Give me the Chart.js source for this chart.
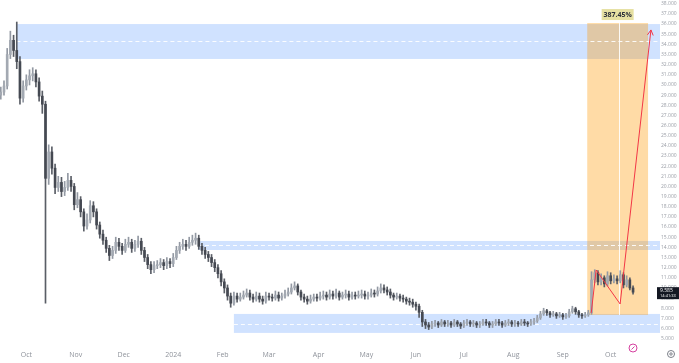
<!DOCTYPE html>
<html>
<head>
<meta charset="utf-8">
<script src="https://cdn.jsdelivr.net/npm/chart.js@4.4.0/dist/chart.umd.min.js"></script>
<style>
  html, body { margin: 0; padding: 0; background: #fff; }
  #wrap { width: 679px; height: 363px; position: relative; }
</style>
</head>
<body>
<div id="wrap"><canvas id="chart"></canvas></div>
<script>
// Candles: one every 2 days, day 0 = 15 Sep 2023
const candleStepDays = 2;
const firstOpen = 29.0;
const candleCloses = [
  29.3, 29.9, 33.0, 34.4, 33.4, 32.3, 28.7, 29.9, 30.5, 30.9,
  31.1, 30.3, 28.9, 28.1, 20.8, 23.4, 21.8, 19.9, 20.4, 19.5,
  19.9, 20.6, 20.0, 18.2, 18.7, 17.5, 16.1, 16.7, 18.1, 17.5,
  16.2, 15.3, 14.7, 13.9, 13.2, 13.7, 14.5, 14.1, 13.7, 14.3,
  14.5, 13.9, 14.3, 14.6, 13.7, 13.0, 12.3, 11.8, 12.2, 12.3,
  12.5, 12.2, 12.6, 12.4, 13.0, 13.7, 14.1, 14.3, 14.1, 14.5,
  14.7, 14.9, 14.1, 13.7, 13.3, 13.0, 12.5, 12.0, 11.4, 10.6,
  10.0, 9.2, 8.5, 9.2, 8.9, 9.1, 9.3, 9.5, 9.1, 8.9,
  9.2, 8.9, 8.7, 9.2, 9.1, 9.0, 9.3, 9.0, 9.2, 9.4,
  9.6, 10.0, 10.2, 9.6, 9.1, 8.9, 8.7, 8.9, 9.1, 9.0,
  9.2, 9.3, 9.1, 9.4, 9.2, 9.5, 9.1, 9.3, 9.4, 9.1,
  9.3, 9.2, 9.3, 9.4, 9.2, 9.3, 9.5, 9.4, 9.7, 10.0,
  9.8, 9.6, 9.3, 9.1, 9.2, 9.0, 8.9, 8.7, 8.6, 8.4,
  8.2, 7.6, 6.65, 6.35, 6.15, 6.45, 6.55, 6.35, 6.65, 6.45,
  6.55, 6.35, 6.65, 6.45, 6.25, 6.55, 6.65, 6.45, 6.55, 6.35,
  6.45, 6.65, 6.55, 6.35, 6.45, 6.65, 6.55, 6.35, 6.55, 6.65,
  6.45, 6.55, 6.45, 6.65, 6.55, 6.45, 6.65, 6.75, 7.05, 7.45,
  7.75, 7.55, 7.35, 7.45, 7.25, 7.35, 7.15, 7.25, 7.65, 7.95,
  7.65, 7.35, 7.25, 7.35, 7.55, 10.8, 11.5, 10.6, 11.0, 10.4,
  11.2, 10.7, 10.9, 10.7, 11.3, 10.3, 10.8, 10.0, 9.585
];
const candleHighs = [
  29.8, 30.4, 33.6, 35.3, 34.9, 36.2, 32.8, 30.4, 31.0, 31.5,
  31.7, 31.5, 30.7, 29.4, 28.4, 24.1, 23.9, 22.2, 21.0, 20.9,
  20.5, 21.3, 21.0, 20.3, 19.4, 19.0, 17.8, 17.3, 18.6, 18.5,
  17.8, 16.5, 15.7, 15.0, 14.2, 14.1, 15.0, 14.9, 14.4, 14.8,
  15.0, 14.8, 14.7, 15.1, 14.9, 14.0, 13.3, 12.6, 12.6, 12.7,
  12.9, 12.8, 13.0, 12.9, 13.4, 14.1, 14.5, 14.8, 14.7, 15.0,
  15.2, 15.4, 15.2, 14.4, 14.0, 13.6, 13.3, 12.8, 12.3, 11.7,
  10.9, 10.3, 9.5, 9.6, 9.5, 9.5, 9.7, 9.9, 9.8, 9.4,
  9.6, 9.5, 9.2, 9.6, 9.5, 9.4, 9.7, 9.6, 9.5, 9.8,
  10.0, 10.4, 10.6, 10.4, 9.8, 9.4, 9.2, 9.3, 9.4, 9.4,
  9.6, 9.7, 9.6, 9.8, 9.7, 9.9, 9.7, 9.6, 9.8, 9.7,
  9.6, 9.6, 9.7, 9.8, 9.7, 9.6, 9.9, 9.8, 10.1, 10.4,
  10.3, 10.1, 9.9, 9.5, 9.5, 9.4, 9.3, 9.1, 9.0, 8.9,
  8.6, 8.4, 7.8, 6.9, 6.6, 6.7, 6.8, 6.7, 6.9, 6.8,
  6.8, 6.7, 6.9, 6.8, 6.6, 6.8, 6.9, 6.8, 6.8, 6.7,
  6.7, 6.9, 6.9, 6.7, 6.7, 6.9, 6.9, 6.7, 6.8, 6.9,
  6.8, 6.8, 6.7, 6.9, 6.9, 6.7, 6.9, 7.0, 7.3, 7.7,
  8.0, 7.9, 7.7, 7.7, 7.6, 7.6, 7.5, 7.5, 7.9, 8.2,
  8.1, 7.8, 7.5, 7.6, 7.8, 11.6, 11.8, 11.7, 11.4, 11.2,
  11.6, 11.5, 11.3, 11.2, 11.7, 11.5, 11.2, 11.0, 10.2
];
const candleLows = [
  28.6, 29.0, 29.6, 32.6, 32.8, 31.6, 28.1, 28.3, 29.5, 30.0,
  30.4, 29.8, 28.4, 27.2, 8.5, 20.2, 21.2, 19.3, 19.5, 19.0,
  19.1, 19.6, 19.5, 17.7, 17.9, 17.0, 15.6, 15.8, 16.4, 17.0,
  15.8, 14.9, 14.3, 13.5, 12.7, 12.9, 13.4, 13.7, 13.3, 13.5,
  14.0, 13.5, 13.6, 14.0, 13.3, 12.6, 11.9, 11.4, 11.5, 11.9,
  12.0, 11.8, 11.9, 12.0, 12.1, 12.8, 13.4, 13.8, 13.7, 13.9,
  14.2, 14.3, 13.8, 13.3, 12.9, 12.6, 12.1, 11.6, 11.0, 10.2,
  9.5, 8.8, 8.1, 8.3, 8.6, 8.7, 8.9, 9.1, 8.8, 8.6,
  8.7, 8.6, 8.4, 8.5, 8.8, 8.7, 8.8, 8.7, 8.8, 9.0,
  9.2, 9.4, 9.8, 9.3, 8.8, 8.6, 8.4, 8.5, 8.7, 8.7,
  8.8, 8.9, 8.8, 8.9, 8.9, 9.0, 8.8, 8.9, 9.0, 8.8,
  8.9, 8.9, 9.0, 9.0, 8.9, 8.9, 9.1, 9.1, 9.2, 9.5,
  9.5, 9.3, 9.0, 8.8, 8.9, 8.7, 8.6, 8.4, 8.3, 8.1,
  7.8, 7.1, 6.2, 6.0, 5.9, 6.0, 6.2, 6.1, 6.2, 6.2,
  6.2, 6.1, 6.2, 6.2, 6.0, 6.1, 6.3, 6.2, 6.2, 6.1,
  6.1, 6.3, 6.3, 6.1, 6.1, 6.3, 6.3, 6.1, 6.2, 6.3,
  6.2, 6.2, 6.2, 6.3, 6.3, 6.2, 6.3, 6.4, 6.6, 6.9,
  7.3, 7.3, 7.1, 7.2, 7.0, 7.1, 6.9, 7.0, 7.1, 7.5,
  7.4, 7.1, 7.0, 7.1, 7.2, 7.4, 10.5, 10.3, 10.3, 10.1,
  10.2, 10.4, 10.5, 10.4, 10.5, 10.0, 10.1, 9.8, 9.4
];

// Axis ticks
const monthTickDays = [16, 47, 77, 108, 139, 168, 199, 229, 260, 290, 321, 352, 382];
const monthTickLabels = ['Oct', 'Nov', 'Dec', '2024', 'Feb', 'Mar', 'Apr', 'May', 'Jun', 'Jul', 'Aug', 'Sep', 'Oct'];
const priceTicks = [5, 6, 7, 8, 9, 10, 11, 12, 13, 14, 15, 16, 17, 18, 19, 20, 21,
  22, 23, 24, 25, 26, 27, 28, 29, 30, 31, 32, 33, 34, 35, 36, 37, 38];

// Blue zones (start day, top, bottom, dashed middle)
const zoneStartDays = [9.8, 123.5, 146];
const zoneTops = [36.0, 14.63, 7.44];
const zoneBottoms = [32.56, 13.74, 5.57];
const zoneMids = [34.33, 14.19, 6.45];

// Price range measure
const measureDays = [367.3, 405.4];
const measurePrices = [7.34, 36.1];
const measureMidDay = 387.5;
const measureLabel = '387.45%';

// Red projection path
const pathDays = [369.8, 372.9, 387.9, 407.2];
const pathPrices = [7.54, 11.77, 8.42, 35.42];

const lastPrice = 9.585;
const lastCountdown = '14:41:33';

// Build candles
const candles = candleCloses.map((c, i) => ({
  day: i * candleStepDays,
  open: i === 0 ? firstOpen : candleCloses[i - 1],
  close: c,
  high: candleHighs[i],
  low: candleLows[i]
}));
const isUp = c => c.close >= c.open;

// Zones, measure box, labels
const drawingsPlugin = {
  id: 'drawings',
  beforeDatasetsDraw(chart) {
    const { ctx, chartArea: a, scales: { x, y } } = chart;
    ctx.save();
    zoneStartDays.forEach((d, i) => {
      const x0 = x.getPixelForValue(d);
      const yt = y.getPixelForValue(zoneTops[i]);
      const yb = y.getPixelForValue(zoneBottoms[i]);
      ctx.fillStyle = 'rgba(41, 121, 255, 0.22)';
      ctx.fillRect(x0, yt, a.right + 3 - x0, yb - yt);
    });
    const mx0 = x.getPixelForValue(measureDays[0]);
    const mx1 = x.getPixelForValue(measureDays[1]);
    const my0 = y.getPixelForValue(measurePrices[1]);
    const my1 = y.getPixelForValue(measurePrices[0]);
    ctx.fillStyle = 'rgba(255, 152, 0, 0.35)';
    ctx.fillRect(mx0, my0, mx1 - mx0, my1 - my0);
    const mm = Math.round(x.getPixelForValue(measureMidDay)) + 0.5;
    ctx.strokeStyle = 'rgba(255,255,255,0.9)';
    ctx.lineWidth = 1;
    ctx.beginPath();
    ctx.moveTo(mm, my0);
    ctx.lineTo(mm, my1);
    ctx.stroke();
    ctx.setLineDash([4, 3]);
    zoneStartDays.forEach((d, i) => {
      const ym = Math.round(y.getPixelForValue(zoneMids[i])) + 0.5;
      ctx.beginPath();
      ctx.moveTo(x.getPixelForValue(d), ym);
      ctx.lineTo(a.right + 3, ym);
      ctx.stroke();
    });
    ctx.restore();
  },
  afterDraw(chart) {
    const { ctx, chartArea: a, scales: { x, y } } = chart;
    ctx.save();
    // arrow head
    const n = pathDays.length;
    const px = x.getPixelForValue(pathDays[n - 1]);
    const py = y.getPixelForValue(pathPrices[n - 1]);
    const qx = x.getPixelForValue(pathDays[n - 2]);
    const qy = y.getPixelForValue(pathPrices[n - 2]);
    const ang = Math.atan2(py - qy, px - qx);
    ctx.strokeStyle = '#f23645';
    ctx.lineWidth = 1;
    ctx.beginPath();
    ctx.moveTo(px - 6 * Math.cos(ang - 0.5), py - 6 * Math.sin(ang - 0.5));
    ctx.lineTo(px, py);
    ctx.lineTo(px - 6 * Math.cos(ang + 0.5), py - 6 * Math.sin(ang + 0.5));
    ctx.stroke();

    // measure label
    const cx = (x.getPixelForValue(measureDays[0]) + x.getPixelForValue(measureDays[1])) / 2;
    const ty = y.getPixelForValue(measurePrices[1]);
    ctx.fillStyle = '#e6e0a2';
    ctx.fillRect(cx - 16, ty - 14, 32, 11);
    ctx.fillStyle = '#2a2e39';
    ctx.font = 'bold 7px "Open Sans", sans-serif';
    ctx.textAlign = 'center';
    ctx.textBaseline = 'middle';
    ctx.fillText(measureLabel, cx, ty - 8.5);

    // last price tag
    const lp = y.getPixelForValue(lastPrice);
    ctx.fillStyle = '#131722';
    ctx.fillRect(a.right, lp - 5, chart.width - a.right, 12);
    ctx.fillStyle = '#ffffff';
    ctx.textAlign = 'left';
    ctx.font = '5px "Open Sans", sans-serif';
    ctx.fillText(lastPrice.toFixed(3), a.right + 3, lp - 1.5);
    ctx.font = '4px "Open Sans", sans-serif';
    ctx.fillText(lastCountdown, a.right + 3, lp + 3.5);

    // bottom toolbar icons
    ctx.strokeStyle = '#d5409f';
    ctx.lineWidth = 1;
    ctx.beginPath();
    ctx.arc(633, 348, 4, 0, Math.PI * 2);
    ctx.stroke();
    ctx.beginPath();
    ctx.moveTo(631.5, 349.5);
    ctx.lineTo(634.5, 346.5);
    ctx.stroke();
    ctx.strokeStyle = '#7b7f88';
    ctx.beginPath();
    ctx.arc(671, 354, 3.5, 0, Math.PI * 2);
    ctx.stroke();
    ctx.beginPath();
    ctx.arc(671, 354, 1.2, 0, Math.PI * 2);
    ctx.stroke();
    ctx.restore();
  }
};

new Chart(document.getElementById('chart'), {
  data: {
    datasets: [
      {
        type: 'line',
        data: pathDays.map((d, i) => ({ x: d, y: pathPrices[i] })),
        borderColor: '#f23645',
        borderWidth: 1,
        pointRadius: 0,
        tension: 0,
        order: 0
      },
      {
        type: 'bar',
        data: candles.map(c => ({ x: c.day, y: [Math.min(c.open, c.close), Math.max(c.open, c.close)] })),
        backgroundColor: candles.map(c => isUp(c) ? '#a3a9b2' : '#454952'),
        barThickness: 2,
        grouped: false,
        order: 1
      },
      {
        type: 'bar',
        data: candles.map(c => ({ x: c.day, y: [c.low, c.high] })),
        backgroundColor: candles.map(c => isUp(c) ? '#9399a3' : '#5a5e66'),
        barThickness: 1,
        grouped: false,
        order: 2
      }
    ]
  },
  options: {
    responsive: true,
    maintainAspectRatio: false,
    animation: false,
    events: [],
    layout: { padding: 0 },
    plugins: { legend: { display: false }, tooltip: { enabled: false } },
    scales: {
      x: {
        type: 'linear',
        offset: false,
        min: -0.5,
        max: 411,
        grid: { display: false, drawTicks: false },
        border: { display: false },
        afterBuildTicks: axis => { axis.ticks = monthTickDays.map(v => ({ value: v })); },
        afterFit: axis => {
          axis.height = 18;
          axis.paddingLeft = 0;
          axis.paddingRight = 0;
        },
        ticks: {
          autoSkip: false,
          maxRotation: 0,
          padding: 6,
          color: '#8f939b',
          font: { size: 7, family: '"Open Sans", sans-serif' },
          callback: v => {
            const i = monthTickDays.indexOf(v);
            return i >= 0 ? monthTickLabels[i] : '';
          }
        }
      },
      y: {
        type: 'linear',
        position: 'right',
        min: 4.38,
        max: 38.37,
        grid: { display: false, drawTicks: false },
        border: { display: false },
        afterBuildTicks: axis => { axis.ticks = priceTicks.map(v => ({ value: v })); },
        afterFit: axis => {
          axis.width = 22;
          axis.paddingTop = 0;
          axis.paddingBottom = 0;
        },
        ticks: {
          autoSkip: false,
          padding: 4,
          color: '#9a9ea6',
          font: { size: 5, family: '"Open Sans", sans-serif' },
          callback: v => v.toFixed(3)
        }
      }
    }
  },
  plugins: [drawingsPlugin]
});
</script>
</body>
</html>
